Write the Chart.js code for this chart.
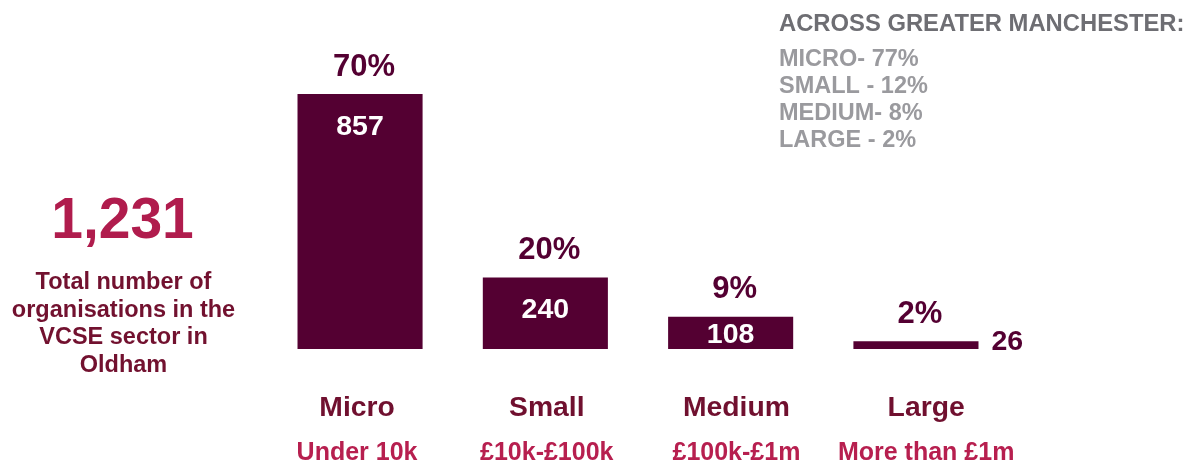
<!DOCTYPE html>
<html>
<head>
<meta charset="utf-8">
<script src="https://cdn.jsdelivr.net/npm/chart.js@4/dist/chart.umd.min.js"></script>
<style>
  html, body { margin: 0; padding: 0; background: #ffffff; }
  #wrap { position: relative; width: 1189px; height: 463px; }
</style>
</head>
<body>
<div id="wrap"><canvas id="c" width="1189" height="463"></canvas></div>
<script>
// Organisation sizes in the VCSE sector (Oldham)
const categories = ['Micro', 'Small', 'Medium', 'Large'];
const incomeBands = ['Under 10k', '£10k-£100k', '£100k-£1m', 'More than £1m'];
const counts = [857, 240, 108, 26];
const percents = [70, 20, 9, 2];
const totalOrganisations = '1,231';
const totalCaption = ['Total number of', 'organisations in the', 'VCSE sector in', 'Oldham'];
const regionHeading = 'ACROSS GREATER MANCHESTER:';
const regionShares = ['MICRO- 77%', 'SMALL - 12%', 'MEDIUM- 8%', 'LARGE - 2%'];

const FONT = '"Liberation Sans", Arial, Helvetica, sans-serif';
const BAR = '#540032';
const CAP = 0.716; // cap height as a fraction of the font size

// draw text so that its capital letters are vertically centred on cy
function capText(ctx, text, x, cy, size, color, align) {
  ctx.font = 'bold ' + size + 'px ' + FONT;
  ctx.fillStyle = color;
  ctx.textAlign = align || 'center';
  ctx.textBaseline = 'alphabetic';
  ctx.fillText(text, x, cy + size * CAP / 2);
}

const labelsPlugin = {
  id: 'vcseLabels',
  afterDraw(chart) {
    const ctx = chart.ctx;
    const meta = chart.getDatasetMeta(0);
    const base = chart.scales.y.getPixelForValue(0);
    ctx.save();

    meta.data.forEach((bar, i) => {
      const x = bar.x, top = bar.y;
      // share above the bar
      capText(ctx, percents[i] + '%', x + 4, top - 29.5, 31, BAR);
      // count inside the bar, or beside it when the bar is too thin
      if (base - top > 24) {
        capText(ctx, String(counts[i]), x, Math.min(top + 30.5, (top + base) / 2), 28.5, '#ffffff');
      } else {
        capText(ctx, String(counts[i]), x + bar.width / 2 + 13, top - 1, 28.5, BAR, 'left');
      }
      // category name and income band, spread slightly wider than the bars
      const lx = x - 3 + 4.4 * i;
      capText(ctx, categories[i], lx, 406, 28.3, '#70102F');
      capText(ctx, incomeBands[i], lx, 451.5, 25, '#B71F4F');
    });

    // total on the left
    capText(ctx, totalOrganisations, 122.5, 218, 57, '#B01C4D');
    totalCaption.forEach((t, k) => capText(ctx, t, 123.5, 281 + k * 27.4, 23.5, '#72112F'));

    // Greater Manchester comparison
    capText(ctx, regionHeading, 779, 22.5, 23.8, '#6E6E73', 'left');
    regionShares.forEach((t, k) => capText(ctx, t, 779, 57.5 + k * 27, 23.5, '#9A9A9E', 'left'));
    ctx.restore();
  }
};

new Chart(document.getElementById('c'), {
  type: 'bar',
  data: {
    labels: categories,
    datasets: [{
      data: counts,
      backgroundColor: BAR,
      borderWidth: 0,
      barPercentage: 0.675,
      categoryPercentage: 1
    }]
  },
  options: {
    responsive: false,
    animation: false,
    layout: { padding: { left: 267.4, right: 180.4, top: 51.5, bottom: 114 } },
    plugins: { legend: { display: false }, tooltip: { enabled: false } },
    scales: {
      x: { display: false },
      y: { display: false, min: 0, max: 1000 }
    }
  },
  plugins: [labelsPlugin]
});
</script>
</body>
</html>
